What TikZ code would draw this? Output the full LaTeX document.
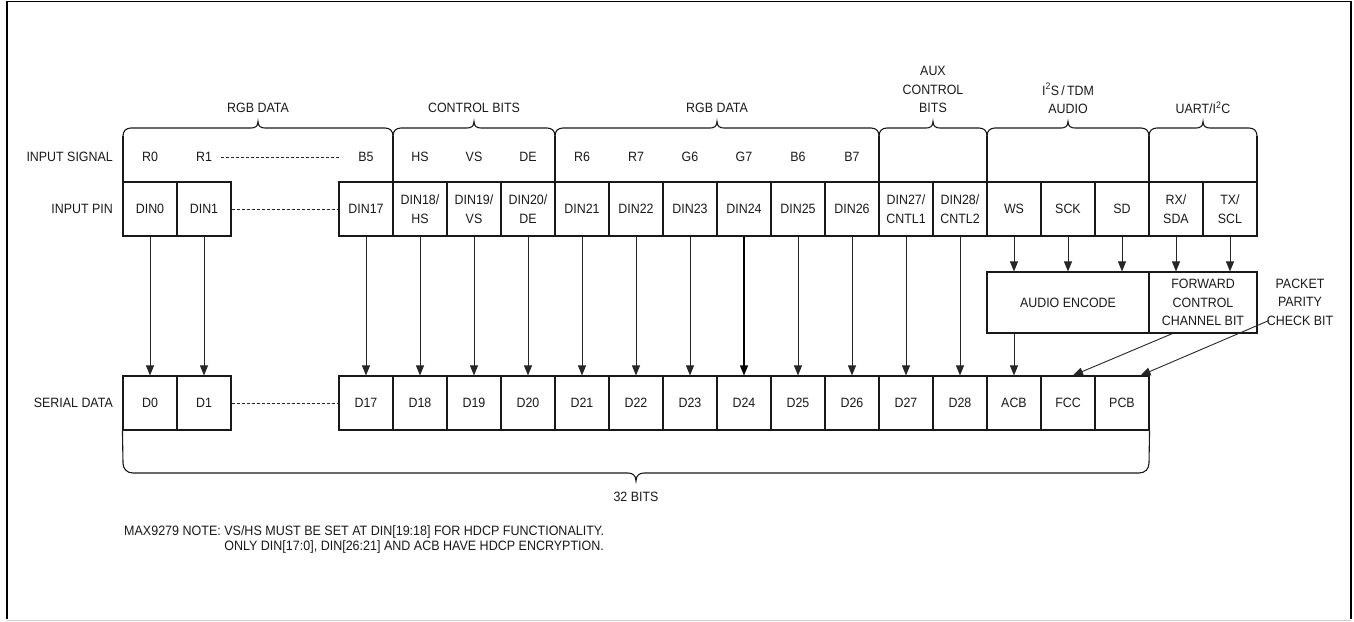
\documentclass[tikz,border=0pt]{standalone}
\usepackage{fontspec}
\setmainfont{Liberation Sans}[FakeStretch=0.92]
\usetikzlibrary{arrows.meta,calc}
\newcommand\pincell[3]{\node[cell] (#1) at (#2,209) {#3};}
\newcommand\sercell[3]{\node[cell] (#1) at (#2,403) {#3};}
\newcommand\sigtxt[3]{\node (#1) at (#2,157) {#3};}
\begin{document}
\begin{tikzpicture}[x=1pt,y=-1pt,
  every node/.style={font=\fontsize{13.5}{18.5}\selectfont, inner sep=0pt, align=center, text=black!90},
  cell/.style={draw=black!90, line width=1.1pt, minimum width=54pt, minimum height=54pt},
  arr/.style={-{Triangle[length=10pt,width=8pt]}, line width=0.9pt, draw=black!85},
  ln/.style={line width=1.1pt, draw=black!90},
  dsh/.style={line width=0.8pt, dash pattern=on 3pt off 2pt, draw=black!85}]
\useasboundingbox (0,0) rectangle (1354,621);
% frame
\draw[line width=1.6pt] (7,619) -- (7,1.5) -- (1351,1.5) -- (1351,619);
\draw[black!20, line width=1pt] (7,620) -- (1351,620);

% row labels
\node[anchor=east] (lsig) at (113,157) {INPUT SIGNAL};
\node[anchor=east] (lpin) at (113,209) {INPUT PIN};
\node[anchor=east] (lser) at (113,403) {SERIAL DATA};

% group labels
\node (g1) at (258,108) {RGB DATA};
\node (g2) at (474,108) {CONTROL BITS};
\node (g3) at (717,108) {RGB DATA};
\node (g4) at (933,89.5) {AUX\\CONTROL\\BITS};
\node (g5) at (1068,98.5) {I\textsuperscript{2}S\,/\,TDM\\AUDIO};
\node (g6) at (1203,108) {UART/I\textsuperscript{2}C};

% top braces
\foreach \a/\b in {123/393, 393/555, 555/879, 879/987, 987/1149, 1149/1257} {
  \pgfmathsetmacro\c{(\a+\b)/2}
  \draw[ln] (\a,136) .. controls (\a,131) and (\a+3,128) .. (\a+8,128) -- (\c-7,128)
    .. controls (\c-3,128) and (\c,126.5) .. (\c,121.5)
    .. controls (\c,126.5) and (\c+3,128) .. (\c+7,128) -- (\b-8,128)
    .. controls (\b-3,128) and (\b,131) .. (\b,136);
}
\foreach \a in {123,393,555,879,987,1149,1257}
  \draw[ln] (\a,135.5) -- (\a,182);

% input signal texts
\sigtxt{r0}{150}{R0}
\sigtxt{r1}{204}{R1}
\sigtxt{b5}{366}{B5}
\sigtxt{hs}{420}{HS}
\sigtxt{vs}{474}{VS}
\sigtxt{de}{528}{DE}
\sigtxt{r6}{582}{R6}
\sigtxt{r7}{636}{R7}
\sigtxt{g6}{690}{G6}
\sigtxt{g7}{744}{G7}
\sigtxt{b6}{798}{B6}
\sigtxt{b7}{852}{B7}
\draw[dsh, shorten <=9pt, shorten >=19pt] (r1.east) -- (b5.west);

% input pins
\pincell{p0}{150}{DIN0}
\pincell{p1}{204}{DIN1}
\pincell{p17}{366}{DIN17}
\pincell{p18}{420}{DIN18/\\HS}
\pincell{p19}{474}{DIN19/\\VS}
\pincell{p20}{528}{DIN20/\\DE}
\pincell{p21}{582}{DIN21}
\pincell{p22}{636}{DIN22}
\pincell{p23}{690}{DIN23}
\pincell{p24}{744}{DIN24}
\pincell{p25}{798}{DIN25}
\pincell{p26}{852}{DIN26}
\pincell{p27}{906}{DIN27/\\CNTL1}
\pincell{p28}{960}{DIN28/\\CNTL2}
\pincell{ws}{1014}{WS}
\pincell{sck}{1068}{SCK}
\pincell{sd}{1122}{SD}
\pincell{rx}{1176}{RX/\\SDA}
\pincell{tx}{1230}{TX/\\SCL}
\draw[dsh] (p1.east) -- (p17.west);

% serial data
\sercell{s0}{150}{D0}
\sercell{s1}{204}{D1}
\sercell{s17}{366}{D17}
\sercell{s18}{420}{D18}
\sercell{s19}{474}{D19}
\sercell{s20}{528}{D20}
\sercell{s21}{582}{D21}
\sercell{s22}{636}{D22}
\sercell{s23}{690}{D23}
\sercell{s24}{744}{D24}
\sercell{s25}{798}{D25}
\sercell{s26}{852}{D26}
\sercell{s27}{906}{D27}
\sercell{s28}{960}{D28}
\sercell{acb}{1014}{ACB}
\sercell{fcc}{1068}{FCC}
\sercell{pcb}{1122}{PCB}
\draw[dsh] (s1.east) -- (s17.west);

% encoder boxes
\node[cell, minimum width=162pt, minimum height=61pt] (enc) at (1068,302.5) {AUDIO ENCODE};
\node[cell, minimum width=108pt, minimum height=61pt] (fccb) at (1203,302.5) {FORWARD\\CONTROL\\CHANNEL BIT};
\node (ppc) at (1300,302) {PACKET\\PARITY\\CHECK BIT};

% arrows
\foreach \n in {0,1,17,18,19,20,21,22,23,25,26,27,28}
  \draw[arr] (p\n.south) -- (s\n.north);
\draw[arr, line width=1.3pt, draw=black] (p24.south) -- (s24.north);
\foreach \n in {ws,sck,sd}
  \draw[arr] (\n.south) -- (\n.south |- enc.north);
\foreach \n in {rx,tx}
  \draw[arr] (\n.south) -- (\n.south |- fccb.north);
\draw[arr] (enc.south -| acb.north) -- (acb.north);
\draw[arr] ($(fccb.south west)!0.22!(fccb.south east)$) -- ($(fcc.north)+(5,0)$);
\coordinate (ppcs) at ($(ppc.south)+(-31,-5)$);
\draw[arr] (ppcs) -- ($(pcb.north east)+(-9,0)$);

% bottom brace
\draw[ln] (s0.south west) -- (123,463) .. controls (123,469) and (127,473) .. (133,473) -- (628,473)
  .. controls (632,473) and (636,475) .. (636,481)
  .. controls (636,475) and (640,473) .. (644,473) -- (1139,473)
  .. controls (1145,473) and (1149,469) .. (1149,463) -- (pcb.south east);
\node (bits) at (636,497) {32 BITS};

% note
\node[anchor=base west, align=left, font=\fontsize{13.6}{14.5}\selectfont] (note) at (124,550)
  {MAX9279 NOTE: VS/HS MUST BE SET AT DIN[19:18] FOR HDCP FUNCTIONALITY.\\
   \hphantom{MAX9279 NOTE: }ONLY DIN[17:0], DIN[26:21] AND ACB HAVE HDCP ENCRYPTION.};
\end{tikzpicture}
\end{document}
